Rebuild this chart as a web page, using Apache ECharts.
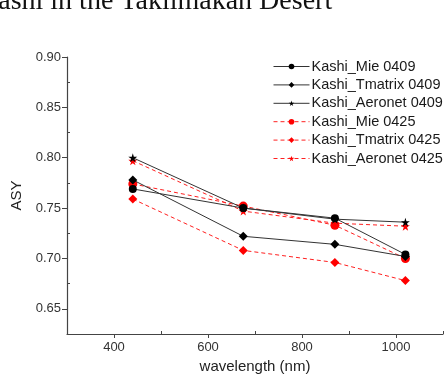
<!DOCTYPE html>
<html>
<head>
<meta charset="utf-8">
<script src="https://cdn.jsdelivr.net/npm/echarts@6/dist/echarts.min.js"></script>
<style>html,body{margin:0;padding:0;background:#fff}#c{width:447px;height:381px}</style>
</head>
<body>
<div id="c"></div>
<script>
const wavelengths = [440, 675, 870, 1020];
const mie0409 = [0.769, 0.750, 0.740, 0.704];
const tmatrix0409 = [0.778, 0.722, 0.714, 0.702];
const aeronet0409 = [0.800, 0.750, 0.739, 0.736];
const mie0425 = [0.774, 0.752, 0.733, 0.700];
const tmatrix0425 = [0.759, 0.708, 0.696, 0.678];
const aeronet0425 = [0.797, 0.747, 0.735, 0.732];
const seriesNames = ['Kashi_Mie 0409','Kashi_Tmatrix 0409','Kashi_Aeronet 0409','Kashi_Mie 0425','Kashi_Tmatrix 0425','Kashi_Aeronet 0425'];
const xMajor = [400, 600, 800, 1000];
const xMinor = [500, 700, 900, 1100];
const yMajor = [0.65, 0.70, 0.75, 0.80, 0.85, 0.90];
const yMinor = [0.625, 0.675, 0.725, 0.775, 0.825, 0.875];
const titleText = 'Kashi in the Taklimakan Desert';

const star = 'path://M50,0 L61,35 L98,35 L68,57 L79,91 L50,70 L21,91 L32,57 L2,35 L39,35 Z';
const pair = arr => wavelengths.map((w, i) => [w, arr[i]]);
function mk(name, arr, color, symbol, size, dashed) {
  return {
    name, type: 'line', data: pair(arr), symbol, symbolSize: size,
    lineStyle: { color: dashed ? '#ff2020' : '#333', width: 1, type: dashed ? [4, 3] : 'solid' },
    itemStyle: { color: color },
    z: dashed ? 3 : 4
  };
}
const font = 'Liberation Sans, Arial, sans-serif';
const chart = echarts.init(document.getElementById('c'));
chart.setOption({
  animation: false,
  backgroundColor: '#fff',
  graphic: [{
    type: 'text', left: -22, top: -12,
    style: { text: titleText, font: '28px "Liberation Serif", "Times New Roman", serif', fill: '#111' }
  }],
  grid: { left: 67, right: 4, top: 57, bottom: 47 },
  legend: {
    orient: 'vertical', left: 268, top: 54, itemWidth: 36, itemHeight: 7, itemGap: 3.4,
    lineStyle: { width: 1 },
    textStyle: { fontFamily: font, fontSize: 14.5, color: '#1a1a1a', padding: [0, 0, 0, -3] },
    data: seriesNames
  },
  xAxis: [{
    type: 'value', min: 300, max: 1100, interval: 100,
    name: 'wavelength (nm)', nameLocation: 'middle', nameGap: 25,
    nameTextStyle: { fontFamily: font, fontSize: 15, color: '#222' },
    axisLine: { lineStyle: { color: '#444', width: 1.2 } },
    axisTick: { customValues: xMajor, length: 4, lineStyle: { color: '#444' } },
    axisLabel: { customValues: xMajor, formatter: v => String(v), fontFamily: font, fontSize: 13, color: '#333', margin: 7 },
    splitLine: { show: false }
  }, {
    type: 'value', min: 300, max: 1100, interval: 100, position: 'bottom',
    axisLine: { show: false },
    axisTick: { customValues: xMinor, inside: true, length: 3, lineStyle: { color: '#444' } },
    axisLabel: { show: false }, splitLine: { show: false }
  }],
  yAxis: [{
    type: 'value', min: 0.625, max: 0.90, interval: 0.025,
    name: 'ASY', nameLocation: 'middle', nameGap: 42,
    nameTextStyle: { fontFamily: font, fontSize: 15, color: '#222' },
    axisLine: { show: true, lineStyle: { color: '#444', width: 1.2 } },
    axisTick: { customValues: yMajor, length: 5, lineStyle: { color: '#444' } },
    axisLabel: { customValues: yMajor, formatter: v => v.toFixed(2), fontFamily: font, fontSize: 13, color: '#333', margin: 6 },
    splitLine: { show: false }
  }, {
    type: 'value', min: 0.625, max: 0.90, interval: 0.025, position: 'left',
    axisLine: { show: false },
    axisTick: { customValues: yMinor, inside: true, length: 3, lineStyle: { color: '#444' } },
    axisLabel: { show: false }, splitLine: { show: false }
  }],
  series: [
    mk(seriesNames[0], mie0409, '#000', 'circle', 8, false),
    mk(seriesNames[1], tmatrix0409, '#000', 'diamond', 9, false),
    mk(seriesNames[2], aeronet0409, '#000', star, 9, false),
    mk(seriesNames[3], mie0425, '#ff0000', 'circle', 9, true),
    mk(seriesNames[4], tmatrix0425, '#ff0000', 'diamond', 9, true),
    mk(seriesNames[5], aeronet0425, '#ff0000', star, 9, true)
  ]
});
</script>
</body>
</html>
